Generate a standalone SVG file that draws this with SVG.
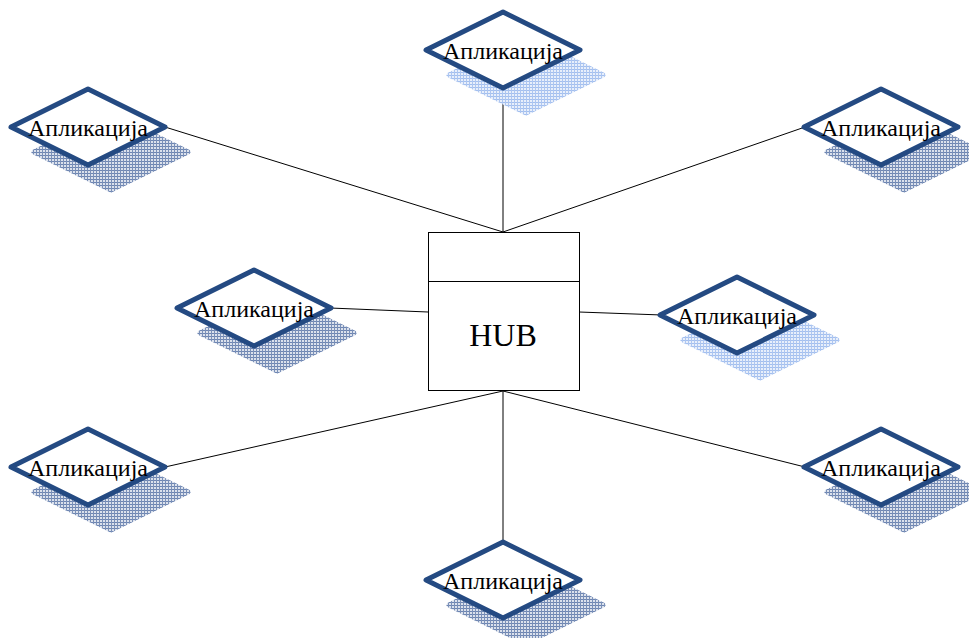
<svg xmlns="http://www.w3.org/2000/svg" width="969" height="638" viewBox="0 0 969 638">
  <defs>
    <!-- woven hatch fills for the diamond shadows -->
    <pattern id="hatchDark" width="3" height="3" patternUnits="userSpaceOnUse">
      <rect width="3" height="3" fill="#dbe1ec"/>
      <rect width="3" height="1" fill="#6d85b2"/>
      <rect width="1" height="3" fill="#7a90b8"/>
    </pattern>
    <pattern id="hatchLight" width="3" height="3" patternUnits="userSpaceOnUse">
      <rect width="3" height="3" fill="#e8effb"/>
      <rect width="3" height="1" fill="#a3bfee"/>
      <rect width="1" height="3" fill="#adc6f1"/>
    </pattern>
    <polygon id="diamond" points="0,-38 77,0 0,38 -77,0" stroke-linejoin="round"/>
  </defs>
  <style>
    .lbl { font-family: "Liberation Serif", "DejaVu Serif", serif; font-size: 24px; text-anchor: middle; fill: #000; }
    .hub { font-family: "Liberation Serif", "DejaVu Serif", serif; font-size: 32px; text-anchor: middle; fill: #000; }
    .conn line { stroke: #000; stroke-width: 1; }
    .node { fill: #ffffff; stroke: #244a82; stroke-width: 5; }
    .shDark { fill: url(#hatchDark); stroke: url(#hatchDark); stroke-width: 5; }
    .shLight { fill: url(#hatchLight); stroke: url(#hatchLight); stroke-width: 5; }
  </style>
  <rect width="969" height="638" fill="#ffffff"/>

  <!-- connectors -->
  <g id="connectors" class="conn">
    <line x1="503" y1="88" x2="503" y2="232"/>
    <line x1="165" y1="127" x2="503" y2="232"/>
    <line x1="805" y1="127" x2="503" y2="232"/>
    <line x1="330" y1="308" x2="428" y2="312"/>
    <line x1="579" y1="312" x2="662" y2="315"/>
    <line x1="165" y1="467" x2="503" y2="391"/>
    <line x1="805" y1="467" x2="503" y2="391"/>
    <line x1="503" y1="391" x2="503" y2="542"/>
  </g>

  <!-- hub -->
  <g id="hub">
    <rect x="428.5" y="232.5" width="151" height="158" fill="#ffffff" stroke="#000" stroke-width="1"/>
    <line x1="428.5" y1="281.5" x2="579.5" y2="281.5" stroke="#000" stroke-width="1"/>
    <text x="503" y="346" class="hub">HUB</text>
  </g>

  <!-- applications -->
  <g id="app-top">
    <use href="#diamond" class="shLight" transform="translate(526,75)"/>
    <use href="#diamond" class="node" transform="translate(503,50)"/>
    <text x="503" y="59" class="lbl">Апликација</text>
  </g>
  <g id="app-top-left">
    <use href="#diamond" class="shDark" transform="translate(111,152)"/>
    <use href="#diamond" class="node" transform="translate(88,127)"/>
    <text x="88" y="136" class="lbl">Апликација</text>
  </g>
  <g id="app-top-right">
    <use href="#diamond" class="shDark" transform="translate(904,152)"/>
    <use href="#diamond" class="node" transform="translate(881,127)"/>
    <text x="881" y="136" class="lbl">Апликација</text>
  </g>
  <g id="app-mid-left">
    <use href="#diamond" class="shDark" transform="translate(277,333)"/>
    <use href="#diamond" class="node" transform="translate(254,308)"/>
    <text x="254" y="317" class="lbl">Апликација</text>
  </g>
  <g id="app-mid-right">
    <use href="#diamond" class="shLight" transform="translate(760,340)"/>
    <use href="#diamond" class="node" transform="translate(737,315)"/>
    <text x="737" y="324" class="lbl">Апликација</text>
  </g>
  <g id="app-bottom-left">
    <use href="#diamond" class="shDark" transform="translate(111,492)"/>
    <use href="#diamond" class="node" transform="translate(88,467)"/>
    <text x="88" y="476" class="lbl">Апликација</text>
  </g>
  <g id="app-bottom-right">
    <use href="#diamond" class="shDark" transform="translate(904,492)"/>
    <use href="#diamond" class="node" transform="translate(881,467)"/>
    <text x="881" y="476" class="lbl">Апликација</text>
  </g>
  <g id="app-bottom">
    <use href="#diamond" class="shDark" transform="translate(526,605)"/>
    <use href="#diamond" class="node" transform="translate(503,580)"/>
    <text x="503" y="589" class="lbl">Апликација</text>
  </g>
</svg>
